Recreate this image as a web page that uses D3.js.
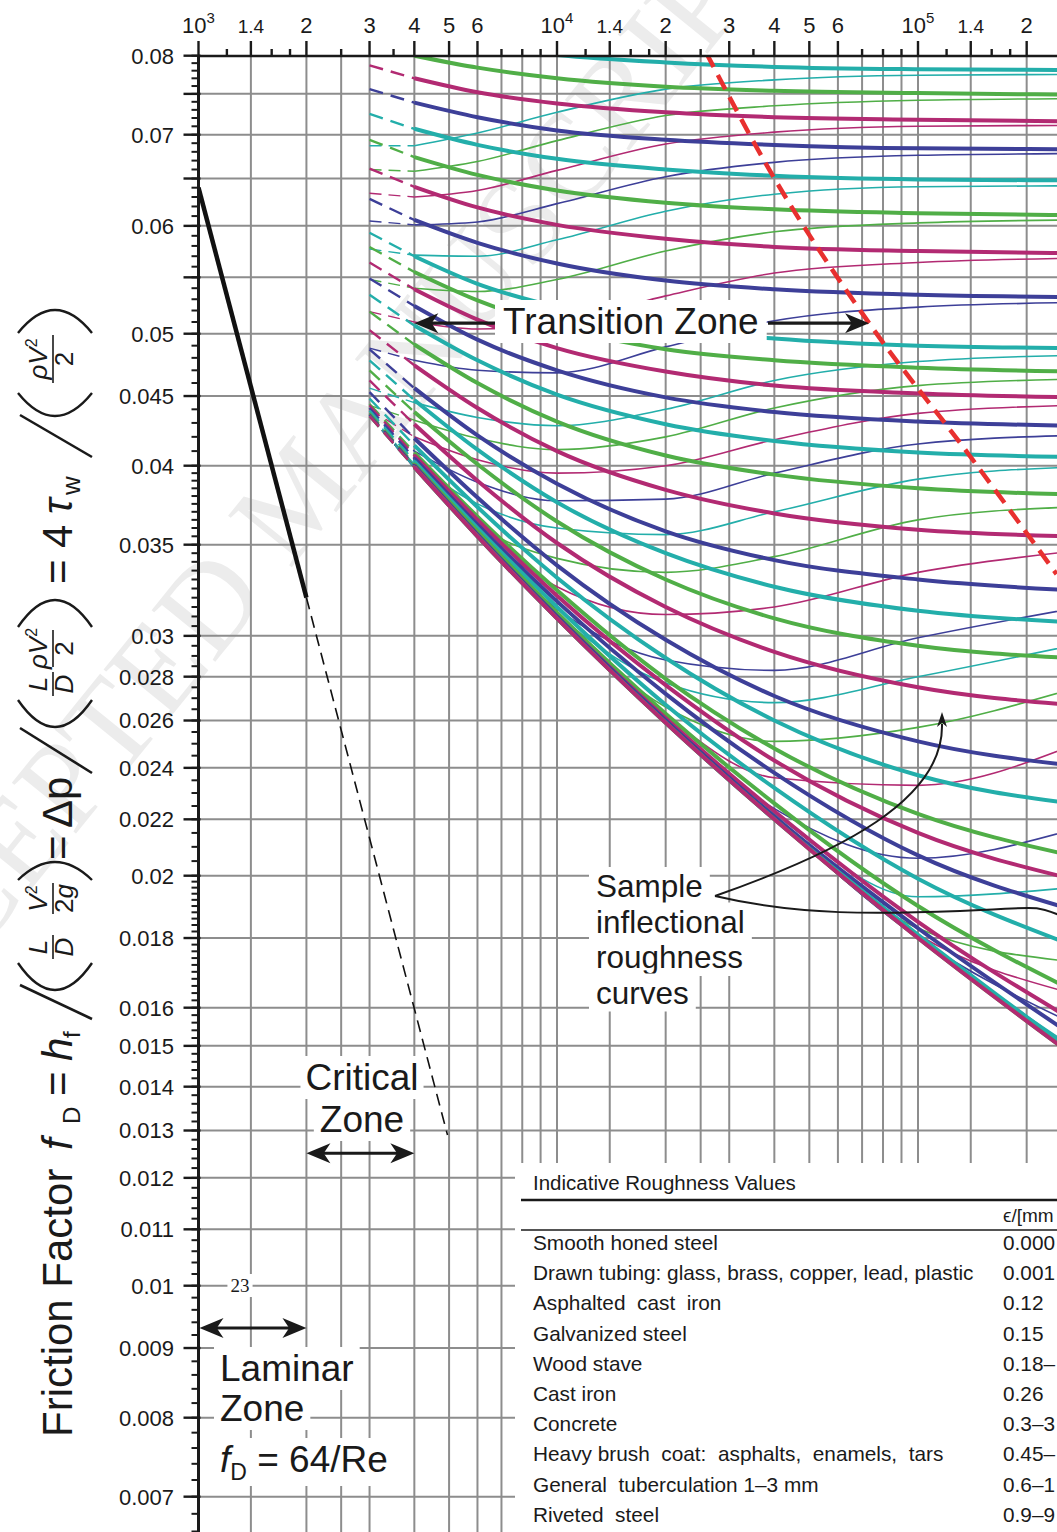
<!DOCTYPE html>
<html>
<head>
<meta charset="utf-8">
<script src="https://cdn.jsdelivr.net/npm/d3@7"></script>
<style>
  html, body { margin: 0; padding: 0; background: #fff; }
  svg { display: block; font-family: "Liberation Sans", Arial, sans-serif; }
</style>
</head>
<body>
<div id="chart"></div>
<script>
// Friction factor chart (Moody type), cropped view
const width = 1057, height = 1532;

// Reynolds numbers where the curve values were read
const reGrid = [3000, 4000, 6000, 1e4, 2e4, 4e4, 1e5, 2.65e5];

// relative roughness of each curve pair (thick = Colebrook, thin = inflectional)
const relRoughness = [0.06, 0.055, 0.05, 0.045, 0.04, 0.035, 0.03, 0.025, 0.02, 0.018, 0.016,
  0.014, 0.012, 0.01, 0.008, 0.006, 0.005, 0.004, 0.003, 0.002, 0.0015, 0.001, 0.0008, 0.0006,
  0.0004, 0.0002, 0.0001, 0.00005, 0.00001, 0.000005, 0.000001];
const curveColors = ["#23aeaa", "#50ae47", "#b22a72", "#3d3f98"]; // cyan, green, magenta, blue

const colebrookF = [
  [0.0846, 0.0830, 0.0814, 0.0801, 0.0791, 0.0785, 0.0782, 0.0781],
  [0.0817, 0.0800, 0.0784, 0.0770, 0.0759, 0.0754, 0.0751, 0.0749],
  [0.0787, 0.0770, 0.0752, 0.0738, 0.0727, 0.0721, 0.0718, 0.0716],
  [0.0756, 0.0739, 0.0721, 0.0705, 0.0694, 0.0688, 0.0684, 0.0683],
  [0.0725, 0.0707, 0.0688, 0.0672, 0.0660, 0.0653, 0.0649, 0.0648],
  [0.0694, 0.0674, 0.0654, 0.0637, 0.0624, 0.0617, 0.0613, 0.0611],
  [0.0661, 0.0641, 0.0619, 0.0601, 0.0587, 0.0579, 0.0575, 0.0573],
  [0.0628, 0.0606, 0.0583, 0.0563, 0.0547, 0.0539, 0.0534, 0.0532],
  [0.0593, 0.0570, 0.0544, 0.0523, 0.0505, 0.0496, 0.0490, 0.0488],
  [0.0579, 0.0555, 0.0529, 0.0506, 0.0487, 0.0478, 0.0472, 0.0469],
  [0.0564, 0.0539, 0.0512, 0.0488, 0.0469, 0.0458, 0.0452, 0.0449],
  [0.0549, 0.0524, 0.0495, 0.0470, 0.0449, 0.0438, 0.0431, 0.0428],
  [0.0534, 0.0507, 0.0478, 0.0451, 0.0429, 0.0417, 0.0409, 0.0406],
  [0.0519, 0.0491, 0.0460, 0.0431, 0.0407, 0.0394, 0.0385, 0.0381],
  [0.0503, 0.0474, 0.0441, 0.0410, 0.0384, 0.0369, 0.0359, 0.0355],
  [0.0487, 0.0456, 0.0421, 0.0388, 0.0358, 0.0341, 0.0330, 0.0324],
  [0.0478, 0.0447, 0.0411, 0.0376, 0.0345, 0.0326, 0.0313, 0.0307],
  [0.0470, 0.0438, 0.0401, 0.0364, 0.0330, 0.0309, 0.0295, 0.0289],
  [0.0462, 0.0429, 0.0390, 0.0351, 0.0315, 0.0292, 0.0275, 0.0267],
  [0.0453, 0.0419, 0.0379, 0.0338, 0.0298, 0.0271, 0.0251, 0.0241],
  [0.0448, 0.0414, 0.0373, 0.0331, 0.0289, 0.0260, 0.0237, 0.0226],
  [0.0444, 0.0409, 0.0367, 0.0324, 0.0279, 0.0248, 0.0222, 0.0207],
  [0.0443, 0.0407, 0.0365, 0.0321, 0.0276, 0.0243, 0.0215, 0.0199],
  [0.0441, 0.0405, 0.0362, 0.0318, 0.0272, 0.0238, 0.0207, 0.0189],
  [0.0439, 0.0403, 0.0360, 0.0315, 0.0267, 0.0232, 0.0199, 0.0178],
  [0.0437, 0.0401, 0.0358, 0.0312, 0.0263, 0.0226, 0.0190, 0.0165],
  [0.0436, 0.0400, 0.0356, 0.0310, 0.0261, 0.0223, 0.0185, 0.0157],
  [0.0436, 0.0400, 0.0356, 0.0310, 0.0260, 0.0221, 0.0183, 0.0153],
  [0.0435, 0.0399, 0.0355, 0.0309, 0.0259, 0.0220, 0.0181, 0.0149],
  [0.0435, 0.0399, 0.0355, 0.0309, 0.0259, 0.0220, 0.0180, 0.0148],
  [0.0435, 0.0399, 0.0355, 0.0309, 0.0259, 0.0220, 0.0180, 0.0148]
];

// thin "inflectional" curves, same roughness order (first 25)
const inflectionalF = [
  [0.0687, 0.0687, 0.0702, 0.0727, 0.0756, 0.0768, 0.0774, 0.0775],
  [0.0660, 0.0658, 0.0669, 0.0693, 0.0723, 0.0735, 0.0742, 0.0744],
  [0.0634, 0.0630, 0.0637, 0.0659, 0.0689, 0.0703, 0.0710, 0.0711],
  [0.0605, 0.0601, 0.0604, 0.0623, 0.0652, 0.0668, 0.0676, 0.0678],
  [0.0577, 0.0571, 0.0570, 0.0586, 0.0615, 0.0633, 0.0641, 0.0642],
  [0.0548, 0.0540, 0.0537, 0.0548, 0.0575, 0.0594, 0.0603, 0.0606],
  [0.0519, 0.0510, 0.0504, 0.0509, 0.0533, 0.0554, 0.0564, 0.0568],
  [0.0488, 0.0478, 0.0470, 0.0468, 0.0489, 0.0511, 0.0523, 0.0527],
  [0.0456, 0.0445, 0.0434, 0.0428, 0.0440, 0.0462, 0.0477, 0.0482],
  [0.0443, 0.0432, 0.0419, 0.0411, 0.0420, 0.0441, 0.0458, 0.0463],
  [0.0440, 0.0420, 0.0404, 0.0395, 0.0400, 0.0418, 0.0437, 0.0443],
  [0.0437, 0.0410, 0.0389, 0.0377, 0.0378, 0.0395, 0.0415, 0.0421],
  [0.0436, 0.0401, 0.0375, 0.0360, 0.0356, 0.0370, 0.0391, 0.0399],
  [0.0435, 0.0400, 0.0362, 0.0342, 0.0334, 0.0343, 0.0365, 0.0373],
  [0.0435, 0.0399, 0.0358, 0.0326, 0.0311, 0.0315, 0.0334, 0.0346],
  [0.0435, 0.0399, 0.0355, 0.0314, 0.0288, 0.0283, 0.0299, 0.0314],
  [0.0435, 0.0399, 0.0355, 0.0311, 0.0277, 0.0268, 0.0280, 0.0295],
  [0.0435, 0.0399, 0.0355, 0.0309, 0.0266, 0.0251, 0.0257, 0.0274],
  [0.0435, 0.0399, 0.0355, 0.0309, 0.0262, 0.0236, 0.0233, 0.0249],
  [0.0435, 0.0399, 0.0355, 0.0309, 0.0259, 0.0224, 0.0206, 0.0216],
  [0.0435, 0.0399, 0.0355, 0.0309, 0.0259, 0.0222, 0.0193, 0.0196],
  [0.0435, 0.0399, 0.0355, 0.0309, 0.0259, 0.0220, 0.0183, 0.0173],
  [0.0435, 0.0399, 0.0355, 0.0309, 0.0259, 0.0220, 0.0181, 0.0164],
  [0.0435, 0.0399, 0.0355, 0.0309, 0.0259, 0.0220, 0.0180, 0.0156],
  [0.0435, 0.0399, 0.0355, 0.0309, 0.0259, 0.0220, 0.0180, 0.0150]
];

const laminarRe = [1000, 2000, 4950];
const laminarF = [0.064, 0.032, 0.0129];

const roughBoundaryRe = [2.59e4, 3.82e4, 7.32e4, 1.37e5, 2.42e5];
const roughBoundaryF = [0.0804, 0.0664, 0.0509, 0.0409, 0.0333];

const yLabelValues = [0.08, 0.07, 0.06, 0.05, 0.045, 0.04, 0.035, 0.03, 0.028, 0.026, 0.024, 0.022,
  0.02, 0.018, 0.016, 0.015, 0.014, 0.013, 0.012, 0.011, 0.01, 0.009, 0.008, 0.007];
const yExtraMajor = [0.075, 0.065, 0.055];
const yGridValues = [0.075, 0.07, 0.065, 0.06, 0.055, 0.05, 0.045, 0.04, 0.035, 0.03, 0.028, 0.026,
  0.024, 0.022, 0.02, 0.018, 0.016, 0.015, 0.014, 0.013, 0.012, 0.011, 0.01, 0.009, 0.008, 0.007];

const decades = [1e3, 1e4, 1e5];
const gridMultipliers = [1, 1.4, 2, 2.5, 3, 4, 5, 6, 7, 8, 9];
const longTickMultipliers = [1, 1.4, 2, 3, 4, 5, 6];
const shortTickMultipliers = [1.2, 1.6, 1.8, 2.5, 3.5, 7, 8, 9];
const xLabels = [
  { v: 1e3, t: "10", s: "3" }, { v: 1.4e3, t: "1.4" }, { v: 2e3, t: "2" }, { v: 3e3, t: "3" },
  { v: 4e3, t: "4" }, { v: 5e3, t: "5" }, { v: 6e3, t: "6" },
  { v: 1e4, t: "10", s: "4" }, { v: 1.4e4, t: "1.4" }, { v: 2e4, t: "2" }, { v: 3e4, t: "3" },
  { v: 4e4, t: "4" }, { v: 5e4, t: "5" }, { v: 6e4, t: "6" },
  { v: 1e5, t: "10", s: "5" }, { v: 1.4e5, t: "1.4" }, { v: 2e5, t: "2" }
];

const materials = ["Smooth honed steel", "Drawn tubing: glass, brass, copper, lead, plastic",
  "Asphalted  cast  iron", "Galvanized steel", "Wood stave", "Cast iron", "Concrete",
  "Heavy brush  coat:  asphalts,  enamels,  tars", "General  tuberculation 1\u20133 mm", "Riveted  steel"];
const materialRoughness = ["0.000", "0.001", "0.12", "0.15", "0.18\u2013", "0.26", "0.3\u20133",
  "0.45\u2013", "0.6\u20131", "0.9\u20139"];

// ---------- scales ----------
const plotLeft = 198.5, plotTop = 56, plotRight = width, plotBottom = height;
const x = d3.scaleLog().domain([1e3, 1e4, 1e5]).range([plotLeft, 557, 918]);
const y = d3.scaleLog().domain([0.01, 0.08]).range([1285.7, 55.7]);

const svg = d3.select("#chart").append("svg")
  .attr("width", width)
  .attr("height", height);

// faint watermark behind everything
svg.append("text")
  .attr("transform", "translate(330,520) rotate(-51)")
  .attr("text-anchor", "middle")
  .attr("font-family", "'Liberation Serif', serif")
  .attr("font-size", 125)
  .attr("fill", "#ececec")
  .text("ACCEPTED MANUSCRIPT");

// ---------- grid ----------
const gridColor = "#8d8d8d";
const reLines = decades.flatMap(d => gridMultipliers.map(m => m * d))
  .filter(v => x(v) > plotLeft + 1 && x(v) <= plotRight);

svg.append("g").selectAll("line").data(reLines).join("line")
  .attr("x1", d => x(d)).attr("x2", d => x(d))
  .attr("y1", plotTop).attr("y2", plotBottom)
  .attr("stroke", gridColor).attr("stroke-width", 2);

svg.append("g").selectAll("line").data(yGridValues).join("line")
  .attr("x1", plotLeft).attr("x2", plotRight)
  .attr("y1", d => y(d)).attr("y2", d => y(d))
  .attr("stroke", gridColor).attr("stroke-width", 2);

// ---------- curves ----------
svg.append("clipPath").attr("id", "plot-clip")
  .append("rect")
  .attr("x", plotLeft).attr("y", plotTop)
  .attr("width", plotRight - plotLeft).attr("height", plotBottom - plotTop);

const curves = svg.append("g").attr("clip-path", "url(#plot-clip)");
const line = d3.line().x(d => x(d[0])).y(d => y(d[1])).curve(d3.curveMonotoneX);
const straight = d3.line().x(d => x(d[0])).y(d => y(d[1]));

relRoughness.forEach((k, i) => {
  const color = curveColors[i % 4];
  const pts = reGrid.map((re, j) => [re, colebrookF[i][j]]);
  curves.append("path").attr("d", straight(pts.slice(0, 2)))
    .attr("fill", "none").attr("stroke", color).attr("stroke-width", 2.4)
    .attr("stroke-dasharray", "14,8");
  curves.append("path").attr("d", line(pts.slice(1)))
    .attr("fill", "none").attr("stroke", color).attr("stroke-width", 4);

  if (i < inflectionalF.length) {
    const tp = reGrid.map((re, j) => [re, inflectionalF[i][j]]);
    curves.append("path").attr("d", straight(tp.slice(0, 2)))
      .attr("fill", "none").attr("stroke", color).attr("stroke-width", 1.4)
      .attr("stroke-dasharray", "12,7");
    curves.append("path").attr("d", line(tp.slice(1)))
      .attr("fill", "none").attr("stroke", color).attr("stroke-width", 1.6);
  }
});

// laminar line f = 64/Re
const lam = laminarRe.map((re, j) => [re, laminarF[j]]);
curves.append("path").attr("d", straight(lam.slice(0, 2)))
  .attr("fill", "none").attr("stroke", "#111").attr("stroke-width", 4.5);
curves.append("path").attr("d", straight(lam.slice(1)))
  .attr("fill", "none").attr("stroke", "#111").attr("stroke-width", 1.6)
  .attr("stroke-dasharray", "12,7");

// red boundary of the fully rough zone
curves.append("path")
  .attr("d", line(roughBoundaryRe.map((re, j) => [re, roughBoundaryF[j]])))
  .attr("fill", "none").attr("stroke", "#e8302f").attr("stroke-width", 4.5)
  .attr("stroke-dasharray", "16,9");

// ---------- axes ----------
const ink = "#1a1a1a";
const axes = svg.append("g").attr("stroke", ink);

axes.append("line").attr("x1", plotLeft).attr("x2", plotRight)
  .attr("y1", plotTop).attr("y2", plotTop).attr("stroke-width", 2.6);
axes.append("line").attr("x1", plotLeft).attr("x2", plotLeft)
  .attr("y1", plotTop - 1).attr("y2", plotBottom).attr("stroke-width", 3);

const topTicks = decades.flatMap(d =>
  longTickMultipliers.map(m => ({ v: m * d, len: 15 }))
    .concat(shortTickMultipliers.map(m => ({ v: m * d, len: 7 }))))
  .filter(t => x(t.v) <= plotRight);
axes.selectAll(".xt").data(topTicks).join("line")
  .attr("x1", d => x(d.v)).attr("x2", d => x(d.v))
  .attr("y1", plotTop).attr("y2", d => plotTop - d.len)
  .attr("stroke-width", 2.4);

const minorF = [...d3.range(0.0066, 0.02, 0.0002), ...d3.range(0.02, 0.04, 0.0005), ...d3.range(0.04, 0.0801, 0.001)];
axes.selectAll(".ym").data(minorF).join("line")
  .attr("x1", plotLeft - 7).attr("x2", plotLeft)
  .attr("y1", d => y(d)).attr("y2", d => y(d))
  .attr("stroke-width", 2);
axes.selectAll(".yM").data(yLabelValues.concat(yExtraMajor)).join("line")
  .attr("x1", plotLeft - 15).attr("x2", plotLeft + 2)
  .attr("y1", d => y(d)).attr("y2", d => y(d))
  .attr("stroke-width", 2.4);

svg.append("g").selectAll("text").data(yLabelValues).join("text")
  .attr("x", 174).attr("y", d => y(d)).attr("dy", "0.36em")
  .attr("text-anchor", "end").attr("font-size", 22).attr("fill", ink)
  .text(d => String(d));

const xl = svg.append("g").selectAll("text").data(xLabels).join("text")
  .attr("x", d => x(d.v)).attr("y", 33)
  .attr("text-anchor", "middle").attr("fill", ink)
  .attr("font-size", d => d.t === "1.4" ? 19 : 22);
xl.append("tspan").text(d => d.t);
xl.filter(d => d.s).append("tspan").attr("dy", -10).attr("font-size", 15).text(d => d.s);

// ---------- y-axis title (rotated) ----------
const title = svg.append("g").attr("transform", "translate(72,0) rotate(-90)").attr("fill", ink);
const T = (py, v, str, size, italic) => title.append("text")
  .attr("x", -py).attr("y", v).attr("font-size", size)
  .attr("font-style", italic ? "italic" : "normal").text(str);
const slash = (pyBig, pySmall) => title.append("line")
  .attr("x1", -pyBig).attr("y1", 20).attr("x2", -pySmall).attr("y2", -52)
  .attr("stroke", ink).attr("stroke-width", 2.6);
const paren = (open, pyBig, pySmall) => {
  const uL = -pyBig, uR = -pySmall;
  const d = open
    ? `M${uR},-54Q${2 * uL - uR},-17 ${uR},20`
    : `M${uL},-54Q${2 * uR - uL},-17 ${uL},20`;
  title.append("path").attr("d", d).attr("fill", "none").attr("stroke", ink).attr("stroke-width", 2.4);
};
const frac = (pyBig, pySmall, num, den) => {
  const c = -(pyBig + pySmall) / 2;
  const n = title.append("text").attr("x", c).attr("y", -25).attr("text-anchor", "middle").attr("font-size", 26);
  num.forEach(p => n.append("tspan").attr("font-style", p.i ? "italic" : "normal")
    .attr("font-size", p.sup ? 16 : 26).attr("dy", p.sup ? -10 : 0).text(p.t));
  title.append("line").attr("x1", -pyBig).attr("x2", -pySmall).attr("y1", -19).attr("y2", -19)
    .attr("stroke", ink).attr("stroke-width", 1.6);
  const dd = title.append("text").attr("x", c).attr("y", 1).attr("text-anchor", "middle").attr("font-size", 26);
  den.forEach(p => dd.append("tspan").attr("font-style", p.i ? "italic" : "normal").text(p.t));
};

T(1437, 0, "Friction Factor", 42);
T(1150, 0, "f", 42, true); T(1124, 8, "D", 24);
T(1096, 0, "=", 42);
T(1061, 0, "h", 42, true); T(1038, 8, "f", 24);
slash(1019, 985);
paren(true, 990, 963);
frac(959, 935, [{ t: "L", i: true }], [{ t: "D", i: true }]);
frac(914, 883, [{ t: "V", i: true }, { t: "2", sup: true }], [{ t: "2" }, { t: "g", i: true }]);
paren(false, 880, 862);
T(860, 0, "=", 42);
T(828, 0, "\u0394p", 42);
slash(773, 728);
paren(true, 727, 700);
frac(696, 672, [{ t: "L", i: true }], [{ t: "D", i: true }]);
frac(667, 630, [{ t: "\u03c1V", i: true }, { t: "2", sup: true }], [{ t: "2" }]);
paren(false, 627, 600);
T(584, 0, "=", 42);
T(548, 0, "4", 42);
T(514, 0, "\u03c4", 42, true); T(495, 8, "w", 26);
slash(457, 415);
paren(true, 416, 393);
frac(383, 335, [{ t: "\u03c1V", i: true }, { t: "2", sup: true }], [{ t: "2" }]);
paren(false, 333, 310);

// ---------- annotations ----------
const notes = svg.append("g").attr("fill", ink);

function boxedText(px, py, str, size, anchor, pad) {
  const g = notes.append("g");
  const t = g.append("text").attr("x", px).attr("y", py).attr("font-size", size)
    .attr("text-anchor", anchor || "start").text(str);
  const b = t.node().getBBox();
  const p = pad == null ? 5 : pad;
  g.insert("rect", "text").attr("x", b.x - p).attr("y", b.y - 1)
    .attr("width", b.width + 2 * p).attr("height", b.height + 2).attr("fill", "#fff");
  return t;
}

function arrowHead(tipX, tipY, angle, len = 24, half = 10) {
  const c = Math.cos(angle), s = Math.sin(angle);
  const bx = tipX - len * c, by = tipY - len * s;
  const nx = tipX - len * 0.72 * c, ny = tipY - len * 0.72 * s;
  notes.append("path")
    .attr("d", `M${tipX},${tipY}L${bx - s * half},${by + c * half}L${nx},${ny}L${bx + s * half},${by - c * half}Z`)
    .attr("fill", ink);
}
function hArrow(xa, xb, yy, both) {
  notes.append("line").attr("x1", xa + (both ? 10 : 0)).attr("x2", xb - 10)
    .attr("y1", yy).attr("y2", yy).attr("stroke", ink).attr("stroke-width", 3.2);
  arrowHead(xb, yy, 0);
  if (both) arrowHead(xa, yy, Math.PI);
}

// transition zone
const trY = y(0.0509);
boxedText(503, 334, "Transition Zone", 37, "start", 8);
notes.append("line").attr("x1", 430).attr("x2", 495).attr("y1", trY).attr("y2", trY)
  .attr("stroke", ink).attr("stroke-width", 3.2);
arrowHead(x(4000), trY, Math.PI);
notes.append("line").attr("x1", 768).attr("x2", x(7.32e4) - 12).attr("y1", trY).attr("y2", trY)
  .attr("stroke", ink).attr("stroke-width", 3.2);
arrowHead(x(7.32e4), trY, 0);

// critical zone
boxedText(362, 1090, "Critical", 37, "middle", 5);
boxedText(362, 1132, "Zone", 37, "middle", 6);
hArrow(x(2000), x(4000), y(0.01251), true);

// laminar zone
boxedText(240, 1292, "23", 19, "middle", 2).attr("font-family", "'Liberation Serif', serif");
hArrow(x(1000) + 1, x(2000), y(0.00931), true);
boxedText(220, 1381, "Laminar", 37, "start", 6);
boxedText(220, 1421, "Zone", 37, "start", 6);
{
  const g = notes.append("g");
  const t = g.append("text").attr("x", 220).attr("y", 1472).attr("font-size", 37);
  t.append("tspan").attr("font-style", "italic").text("f");
  t.append("tspan").attr("font-size", 23).attr("dy", 8).text("D");
  t.append("tspan").attr("dy", -8).text(" = 64/Re");
  const b = t.node().getBBox();
  g.insert("rect", "text").attr("x", b.x - 6).attr("y", b.y - 1)
    .attr("width", b.width + 12).attr("height", b.height + 2).attr("fill", "#fff");
}

// sample inflectional curves
["Sample", "inflectional", "roughness", "curves"].forEach((s, i) => {
  boxedText(596, 897 + i * 35.5, s, 31.5, "start", 7);
});
notes.append("path").attr("d", "M715,896 C 840,852 944,800 942,724")
  .attr("fill", "none").attr("stroke", ink).attr("stroke-width", 2);
arrowHead(942, 712, -Math.PI / 2, 15, 5);
notes.append("path").attr("d", "M715,896 C 800,916 880,914 960,911 S 1030,904 1062,916")
  .attr("fill", "none").attr("stroke", ink).attr("stroke-width", 2);

// ---------- roughness table ----------
const table = svg.append("g").attr("fill", ink);
table.append("rect").attr("x", 515).attr("y", 1163)
  .attr("width", width - 515).attr("height", height - 1163).attr("fill", "#fff");
table.append("text").attr("x", 533).attr("y", 1190).attr("font-size", 20.5)
  .text("Indicative Roughness Values");
table.append("line").attr("x1", 521).attr("x2", width).attr("y1", 1200).attr("y2", 1200)
  .attr("stroke", ink).attr("stroke-width", 2.6);
table.append("text").attr("x", 1003).attr("y", 1222).attr("font-size", 19).text("\u03f5/[mm");
table.append("line").attr("x1", 521).attr("x2", width).attr("y1", 1230).attr("y2", 1230)
  .attr("stroke", ink).attr("stroke-width", 1.6);
table.selectAll(".mat").data(materials).join("text")
  .attr("x", 533).attr("y", (d, i) => 1250 + i * 30.2).attr("font-size", 20.8)
  .style("white-space", "pre").text(d => d);
table.selectAll(".val").data(materialRoughness).join("text")
  .attr("x", 1003).attr("y", (d, i) => 1250 + i * 30.2).attr("font-size", 20.8)
  .text(d => d);
</script>
</body>
</html>
